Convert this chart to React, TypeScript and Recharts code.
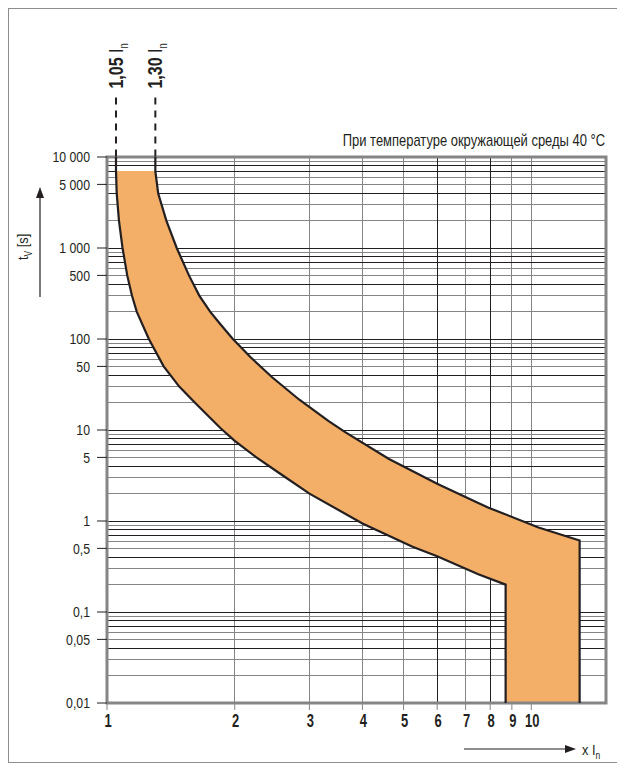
import React from 'react';
import { ComposedChart, XAxis, YAxis, Area, Line, ReferenceLine, ReferenceArea, CartesianGrid } from 'recharts';

const FONT = "'Liberation Sans', Arial, sans-serif";
const INK = '#231f20';
const GRAY = '#858585';
const ORANGE = '#f3ae68';

// axis ticks
const xTicks = [1, 2, 3, 4, 5, 6, 7, 8, 9, 10];
const yTicks = [10000, 5000, 1000, 500, 100, 50, 10, 5, 1, 0.5, 0.1, 0.05, 0.01];
const yTickLabels = ['10 000', '5 000', '1 000', '500', '100', '50', '10', '5', '1', '0,5', '0,1', '0,05', '0,01'];

// log grid
const decades = [0.01, 0.1, 1, 10, 100, 1000];
const mantissas = [1, 2, 3, 4, 5, 6, 7, 8, 9];
const mantissaDark = [true, false, false, true, false, false, true, true, false];
const vGrid = [2, 3, 4, 5, 6, 7, 8, 9, 10];
const vGridDark = [false, false, false, false, true, false, true, false, false];

// lower boundary (1,05 In side), x In -> t s
const lowerX = [1.05, 1.05, 1.054, 1.067, 1.088, 1.116, 1.145, 1.175, 1.255, 1.36, 1.48, 1.61, 1.85, 2.0, 2.25, 2.55, 3.0, 4.0, 5.25, 6.0, 7.5, 8.7, 8.7];
const lowerT = [10000, 7000, 4000, 2000, 1000, 500, 300, 200, 100, 50, 30, 20, 10.5, 7.6, 5.0, 3.35, 2.0, 0.94, 0.52, 0.41, 0.26, 0.2, 0.01];

// upper boundary (1,30 In side)
const upperX = [1.3, 1.3, 1.32, 1.38, 1.46, 1.56, 1.65, 1.75, 1.84, 1.98, 2.18, 2.45, 2.84, 3.33, 3.65, 4.62, 6.0, 7.5, 7.93, 10.4, 13.0, 13.0];
const upperT = [10000, 7000, 4000, 2000, 1000, 500, 300, 200, 150, 100, 63, 38, 21.5, 12.5, 9.4, 4.8, 2.56, 1.58, 1.4, 0.85, 0.61, 0.01];

// tripping band: both limits read at the same x
const bandX = [1.05, 1.054, 1.067, 1.088, 1.116, 1.145, 1.175, 1.255, 1.3, 1.32, 1.36, 1.38, 1.46, 1.48, 1.56, 1.61, 1.65, 1.75, 1.84, 1.85, 1.98, 2.0, 2.18, 2.25, 2.45, 2.55, 2.84, 3.0, 3.33, 3.65, 4.0, 4.62, 5.25, 6.0, 7.5, 7.93, 8.7, 8.7, 10.4, 13.0];
const bandLow = [7000, 4000, 2000, 1000, 500, 300, 200, 100, 74, 65, 50, 46, 32.6, 30, 23.3, 20, 18, 13.6, 10.8, 10.5, 7.9, 7.6, 5.6, 5.0, 3.8, 3.35, 2.38, 2.0, 1.52, 1.2, 0.94, 0.69, 0.52, 0.41, 0.26, 0.235, 0.2, 0.01, 0.01, 0.01];
const bandHigh = [7000, 7000, 7000, 7000, 7000, 7000, 7000, 7000, 7000, 4000, 2500, 2000, 1000, 868, 500, 375, 300, 200, 150, 146, 100, 95, 63, 55, 38, 32.6, 21.5, 17.8, 12.5, 9.4, 7.2, 4.8, 3.5, 2.56, 1.58, 1.4, 1.18, 1.18, 0.85, 0.61];

// rated current markers
const markerX = [1.05, 1.3];
const markerText = ['1,05', '1,30'];
const markerTop = 45000;

const lowerData = lowerX.map((x, i) => ({ x, t: lowerT[i] }));
const upperData = upperX.map((x, i) => ({ x, t: upperT[i] }));
const bandData = bandX.map((x, i) => ({ x, range: [bandLow[i], bandHigh[i]] }));

const hGray: number[] = [];
const hDark: number[] = [];
decades.forEach((d) =>
  mantissas.forEach((m, j) => {
    const v = +(d * m).toPrecision(3);
    if (v > 0.01) (mantissaDark[j] ? hDark : hGray).push(v);
  })
);
const vGray = vGrid.filter((_, i) => !vGridDark[i]);
const vDark = vGrid.filter((_, i) => vGridDark[i]);

const YTick = (props: any) => {
  const { x, y, payload } = props;
  return (
    <text transform={`translate(${x},${y}) scale(0.82,1)`} textAnchor="end" dy="0.355em" fontFamily={FONT} fontSize={15} fill={INK}>
      {yTickLabels[yTicks.indexOf(payload.value)]}
    </text>
  );
};

const XTick = (props: any) => {
  const { x, y, payload } = props;
  return (
    <text transform={`translate(${x + 1},${y}) scale(0.72,1)`} textAnchor="middle" dy="0.71em" fontFamily={FONT} fontSize={18} fontWeight="bold" fill={INK}>
      {payload.value}
    </text>
  );
};

const markerLabel = (text: string) => (props: any) => {
  const vb = props.viewBox || {};
  const x = (vb.x || 0) + 7;
  const y = (vb.y || 0) - 9;
  return (
    <text transform={`translate(${x},${y}) rotate(-90) scale(0.8,1)`} fontFamily={FONT} fill={INK} fontSize={20}>
      <tspan fontWeight="bold">{text}</tspan>
      <tspan> I</tspan>
      <tspan fontSize={12} dy={5}>n</tspan>
    </text>
  );
};

export default function App() {
  return (
    <div style={{ position: 'relative', width: 608, height: 753, border: '1px solid #8d8d8d' }}>
      <ComposedChart width={608} height={753} margin={{ top: 148, right: 11, bottom: 0, left: 0 }}>
        <CartesianGrid horizontalValues={hGray} verticalValues={vGray} stroke={GRAY} shapeRendering="crispEdges" />
        <CartesianGrid horizontalValues={hDark} verticalValues={vDark} stroke={INK} shapeRendering="crispEdges" />
        <XAxis
          type="number"
          dataKey="x"
          scale="log"
          domain={[1, 15]}
          allowDataOverflow
          ticks={xTicks}
          interval={0}
          axisLine={false}
          tickLine={{ stroke: GRAY }}
          tickSize={7}
          tickMargin={4}
          height={59}
          tick={<XTick />}
        />
        <YAxis
          type="number"
          scale="log"
          domain={[0.01, 10000]}
          allowDataOverflow
          ticks={yTicks}
          interval={0}
          width={98}
          axisLine={false}
          tickLine={{ stroke: INK }}
          tickSize={10}
          tickMargin={7}
          tick={<YTick />}
        />
        <Area
          data={bandData}
          dataKey="range"
          type="linear"
          stroke="none"
          fill={ORANGE}
          fillOpacity={1}
          isAnimationActive={false}
          dot={false}
          activeDot={false}
        />
        <Line data={lowerData} dataKey="t" type="linear" stroke={INK} strokeWidth={2.2} dot={false} activeDot={false} isAnimationActive={false} />
        <Line data={upperData} dataKey="t" type="linear" stroke={INK} strokeWidth={2.2} dot={false} activeDot={false} isAnimationActive={false} />
        <ReferenceArea x1={1} x2={15} y1={0.01} y2={10000} fill="none" stroke={GRAY} strokeWidth={3} ifOverflow="visible" />
        {markerX.map((x, i) => (
          <ReferenceLine
            key={'m' + x}
            segment={[{ x, y: markerTop }, { x, y: 10000 }]}
            stroke={INK}
            strokeWidth={2}
            strokeDasharray="7 6"
            ifOverflow="visible"
            label={markerLabel(markerText[i])}
          />
        ))}
      </ComposedChart>
      <svg width={608} height={753} style={{ position: 'absolute', left: 0, top: 0, pointerEvents: 'none' }}>
        <text transform="translate(596,137) scale(0.81,1)" textAnchor="end" fontFamily={FONT} fontSize={16} fill={INK}>
          При температуре окружающей среды 40 °C
        </text>
        <text transform="translate(19,251) rotate(-90) scale(0.85,1)" fontFamily={FONT} fontSize={15} fill={INK}>
          t<tspan fontSize={10} dy={4}>V</tspan>
          <tspan dy={-4}> [s]</tspan>
        </text>
        <line x1={31} y1={288} x2={31} y2={186} stroke={INK} strokeWidth={1.2} />
        <polygon points="31,178 27,189 35,189" fill={INK} />
        <line x1={455} y1={740} x2={558} y2={740} stroke={INK} strokeWidth={1.2} />
        <polygon points="567,740 556,736 556,744" fill={INK} />
        <text transform="translate(573,746) scale(0.85,1)" fontFamily={FONT} fontSize={15} fill={INK}>
          x I<tspan fontSize={10} dy={4}>n</tspan>
        </text>
      </svg>
    </div>
  );
}
